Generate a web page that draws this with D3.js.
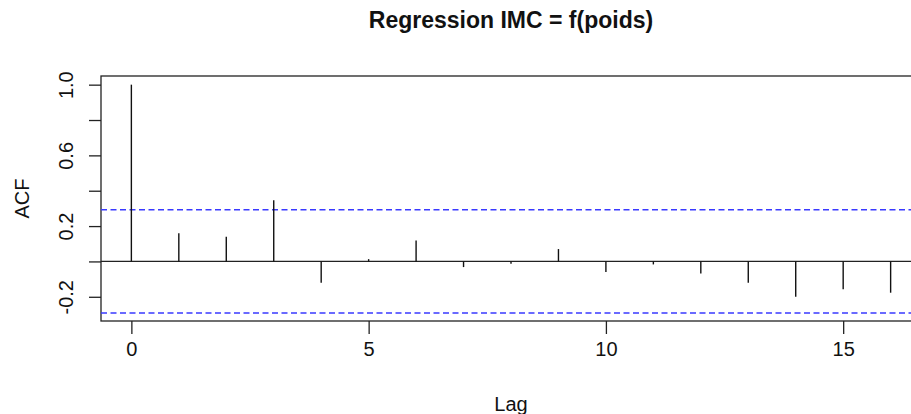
<!DOCTYPE html>
<html>
<head>
<meta charset="utf-8">
<script src="https://cdn.jsdelivr.net/npm/d3@7"></script>
<style>
  body { margin: 0; background: #fff; }
  svg { display: block; font-family: "Liberation Sans", Arial, sans-serif; }
</style>
</head>
<body>
<svg id="chart" width="911" height="414"></svg>
<script>
// ACF values
const lags = [0, 1, 2, 3, 4, 5, 6, 7, 8, 9, 10, 11, 12, 13, 14, 15, 16];
const acfValues = [1.0, 0.16, 0.139, 0.346, -0.121, 0.013, 0.119, -0.032, -0.013,
  0.07, -0.06, -0.017, -0.068, -0.121, -0.2, -0.158, -0.177];
const confLimit = 0.292;
const xTicks = [0, 5, 10, 15];
const yTicks = [-0.2, 0, 0.2, 0.4, 0.6, 0.8, 1.0];
const yLabels = [-0.2, 0.2, 0.6, 1.0];
const title = "Regression IMC = f(poids)";

const svg = d3.select("#chart"),
  margin = { left: 101, right: -10, top: 76, bottom: 93 },
  width = 911,
  height = 414;

const x = d3.scaleLinear()
  .domain([-0.64, 16.64])
  .range([margin.left, width - margin.right]);
const y = d3.scaleLinear()
  .domain([-0.337, 1.049])
  .range([height - margin.bottom, margin.top]);

const ink = "#222";

// plot box
svg.append("rect")
  .attr("x", margin.left)
  .attr("y", margin.top)
  .attr("width", width - margin.right - margin.left)
  .attr("height", height - margin.bottom - margin.top)
  .attr("fill", "none")
  .attr("stroke", ink)
  .attr("stroke-width", 1.3);

// zero line
svg.append("line")
  .attr("x1", margin.left).attr("x2", width - margin.right)
  .attr("y1", y(0)).attr("y2", y(0))
  .attr("stroke", ink).attr("stroke-width", 1.3);

// confidence limits
svg.selectAll(".clim")
  .data([confLimit, -confLimit])
  .join("line")
  .attr("class", "clim")
  .attr("x1", margin.left).attr("x2", width - margin.right)
  .attr("y1", (d) => y(d)).attr("y2", (d) => y(d))
  .attr("stroke", "#3a3aff")
  .attr("stroke-width", 1.6)
  .attr("stroke-dasharray", "6,3.5");

// ACF spikes
svg.selectAll(".spike")
  .data(lags)
  .join("line")
  .attr("class", "spike")
  .attr("x1", (d) => x(d)).attr("x2", (d) => x(d))
  .attr("y1", y(0))
  .attr("y2", (d, i) => y(acfValues[i]))
  .attr("stroke", "#111")
  .attr("stroke-width", 1.4);

// x axis
const xAxis = d3.axisBottom(x)
  .tickValues(xTicks)
  .tickSize(13)
  .tickPadding(8)
  .tickFormat(d3.format("d"));
svg.append("g")
  .attr("transform", `translate(0, ${height - margin.bottom})`)
  .call(xAxis)
  .call((g) => {
    g.select(".domain").attr("display", "none");
    g.selectAll(".tick line").attr("stroke", ink).attr("stroke-width", 1.3);
    g.selectAll(".tick text")
      .attr("font-size", 20)
      .attr("font-family", "Liberation Sans, Arial, sans-serif")
      .attr("fill", "#111");
  });

// y axis
const fmt = (d) => (yLabels.includes(+d.toFixed(1)) ? d.toFixed(1) : "");
const yAxis = d3.axisLeft(y)
  .tickValues(yTicks)
  .tickSize(12)
  .tickFormat(fmt);
svg.append("g")
  .attr("transform", `translate(${margin.left}, 0)`)
  .call(yAxis)
  .call((g) => {
    g.select(".domain").attr("display", "none");
    g.selectAll(".tick line").attr("stroke", ink).attr("stroke-width", 1.3);
    g.selectAll(".tick text")
      .attr("font-size", 20)
      .attr("font-family", "Liberation Sans, Arial, sans-serif")
      .attr("fill", "#111")
      .attr("x", null)
      .attr("dy", null)
      .attr("text-anchor", "middle")
      .attr("transform", "translate(-28, 0) rotate(-90)");
  });

// title and axis titles
svg.append("text")
  .attr("x", (margin.left + width - margin.right) / 2)
  .attr("y", 28)
  .attr("text-anchor", "middle")
  .attr("font-size", 23)
  .attr("font-weight", "bold")
  .attr("fill", "#111")
  .text(title);

svg.append("text")
  .attr("x", (margin.left + width - margin.right) / 2)
  .attr("y", 411)
  .attr("text-anchor", "middle")
  .attr("font-size", 20)
  .attr("fill", "#111")
  .text("Lag");

svg.append("text")
  .attr("transform", `translate(28.5, ${(margin.top + height - margin.bottom) / 2}) rotate(-90)`)
  .attr("text-anchor", "middle")
  .attr("font-size", 20)
  .attr("fill", "#111")
  .text("ACF");
</script>
</body>
</html>
